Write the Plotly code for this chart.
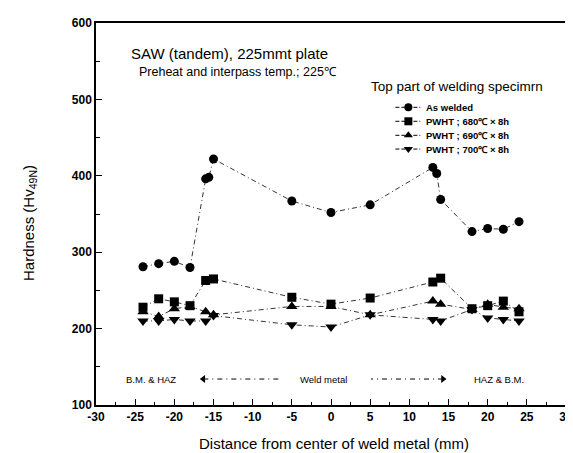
import plotly.graph_objects as go

# ---- data ----
aw_x = [-24, -22, -20, -18, -16, -15.6, -15, -5, 0, 5, 13, 13.5, 14, 18, 20, 22, 24]
aw_y = [281, 285, 288, 280, 396, 398, 422, 367, 352, 362, 411, 403, 369, 327, 331, 330, 340]

p680_x = [-24, -22, -20, -18, -16, -15, -5, 0, 5, 13, 14, 18, 20, 22, 24]
p680_y = [228, 239, 235, 230, 263, 265, 241, 232, 240, 261, 266, 226, 230, 236, 222]

p690_x = [-24, -22, -20, -18, -16, -15, -5, 0, 5, 13, 14, 18, 20, 22, 24]
p690_y = [222, 216, 226, 229, 222, 218, 229, 229, 218, 236, 232, 225, 232, 228, 226]

p700_x = [-24, -22, -20, -18, -16, -15, -5, 0, 5, 13, 14, 18, 20, 22, 24]
p700_y = [210, 210, 212, 210, 210, 217, 205, 202, 218, 212, 210, 225, 214, 212, 210]

series_names = ["As welded", "PWHT ; 680\u2103 \u00d7 8h", "PWHT ; 690\u2103 \u00d7 8h", "PWHT ; 700\u2103 \u00d7 8h"]
series_symbols = ["circle", "square", "triangle-up", "triangle-down"]

x_ticks = [-30, -25, -20, -15, -10, -5, 0, 5, 10, 15, 20, 25, 30]
x_ticklabels = [str(v) for v in x_ticks]
y_ticks = [100, 200, 300, 400, 500, 600]
y_ticklabels = [str(v) for v in y_ticks]

region_labels = ["B.M. & HAZ", "Weld metal", "HAZ & B.M."]
region_label_x = [-23, -1, 21.5]
region_arrow_tip = [-16.3, 14.3]
region_arrow_tail = [-6.7, 5.1]
region_y = 134

FONT = "Arial, Liberation Sans, sans-serif"
DASH = "5px,3px,1px,3px"

fig = go.Figure()

data = [(aw_x, aw_y), (p680_x, p680_y), (p690_x, p690_y), (p700_x, p700_y)]
sizes = [9, 9, 10, 10]
for (xs, ys), name, sym, sz in zip(data, series_names, series_symbols, sizes):
    fig.add_trace(go.Scatter(
        x=xs, y=ys, mode="lines+markers", name=name,
        line=dict(color="black", width=0.8, dash=DASH),
        marker=dict(symbol=sym, size=sz, color="black"),
        showlegend=False))

# legend glyphs on an overlay unit axis
leg_rows = [0.7793, 0.7427, 0.706, 0.670]
for name, sym, yy in zip(series_names, series_symbols, leg_rows):
    fig.add_trace(go.Scatter(
        x=[0.637, 0.6646, 0.690], y=[yy, yy, yy], xaxis="x2", yaxis="y2",
        mode="lines", line=dict(color="black", width=1, dash="4px,2px"),
        showlegend=False, hoverinfo="skip"))
    fig.add_trace(go.Scatter(
        x=[0.6646], y=[yy], xaxis="x2", yaxis="y2", mode="markers",
        marker=dict(symbol=sym, size=8, color="black"),
        showlegend=False, hoverinfo="skip"))
    fig.add_annotation(x=0.698, y=yy, xref="paper", yref="paper", text=name,
                       showarrow=False, xanchor="left", yanchor="middle",
                       font=dict(family=FONT, size=9.5, color="black", weight="bold"))

# region labels and arrows
for lbl, lx in zip(region_labels, region_label_x):
    fig.add_annotation(x=lx, y=region_y, text=lbl, showarrow=False,
                       font=dict(family=FONT, size=9.5, color="black"))
for tip, tail, sym in zip(region_arrow_tip, region_arrow_tail, ["triangle-left", "triangle-right"]):
    fig.add_trace(go.Scatter(
        x=[tip, tail], y=[region_y, region_y], mode="lines",
        line=dict(color="black", width=1, dash="5px,4px,1px,4px"),
        showlegend=False, hoverinfo="skip"))
    fig.add_trace(go.Scatter(
        x=[tip], y=[region_y], mode="markers",
        marker=dict(symbol=sym, size=7, color="black"),
        showlegend=False, hoverinfo="skip"))

# texts
fig.add_annotation(x=0.07, y=(1 - (45 - 15) / 382), xref="paper", yref="paper",
                   text="SAW (tandem), 225mmt plate", showarrow=False,
                   xanchor="left", yanchor="middle",
                   font=dict(family=FONT, size=15, color="black"))
fig.add_annotation(x=0.088, y=(1 - (64 - 15) / 382), xref="paper", yref="paper",
                   text="Preheat and interpass temp.; 225\u2103", showarrow=False,
                   xanchor="left", yanchor="middle",
                   font=dict(family=FONT, size=12.5, color="black"))
fig.add_annotation(x=0.5805, y=(1 - (78 - 15) / 382), xref="paper", yref="paper",
                   text="Top part of welding specimrn", showarrow=False,
                   xanchor="left", yanchor="middle",
                   font=dict(family=FONT, size=13.5, color="black"))

# axis titles
fig.add_annotation(x=(20 - 88) / 477, y=1 - (215 - 15) / 382, xref="paper", yref="paper",
                   text="Hardness (Hv<sub>49N</sub>)", textangle=-90, showarrow=False,
                   xanchor="center", yanchor="middle",
                   font=dict(family=FONT, size=15, color="black"))
fig.add_annotation(x=(330 - 88) / 477, y=1 - (435 - 15) / 382, xref="paper", yref="paper",
                   text="Distance from center of weld metal (mm)", showarrow=False,
                   xanchor="center", yanchor="middle",
                   font=dict(family=FONT, size=15, color="black"))

axis_common = dict(showline=True, linecolor="black", linewidth=1.5, mirror=True,
                   ticks="inside", ticklen=6, tickwidth=1.2, tickcolor="black",
                   showgrid=False, zeroline=False,
                   tickfont=dict(family=FONT, size=12, color="black", weight="bold"))

fig.update_layout(
    width=573, height=453,
    margin=dict(l=88, r=8, t=15, b=56),
    paper_bgcolor="white", plot_bgcolor="white",
    xaxis=dict(range=[-30, 30], tickvals=x_ticks, ticktext=x_ticklabels,
               minor=dict(dtick=2.5, ticks="inside", ticklen=3, tickcolor="black"),
               **axis_common),
    yaxis=dict(range=[100, 600], tickvals=y_ticks, ticktext=y_ticklabels,
               minor=dict(dtick=50, ticks="inside", ticklen=4, tickcolor="black"),
               **axis_common),
    xaxis2=dict(overlaying="x", range=[0, 1], visible=False),
    yaxis2=dict(overlaying="y", range=[0, 1], visible=False),
)

fig.write_html("out.html")
